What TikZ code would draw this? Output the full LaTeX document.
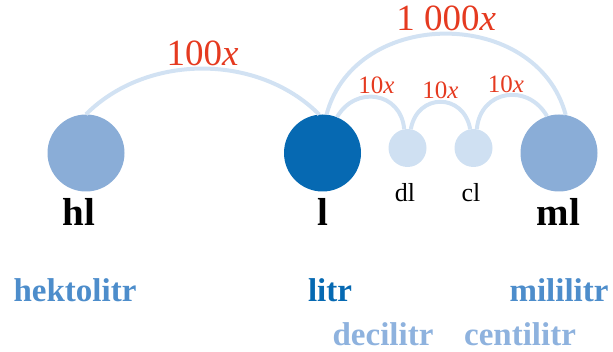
\documentclass[tikz,border=0pt]{standalone}
\usepackage{fontspec}
\setmainfont{Liberation Serif}
\usepackage{xcolor}
\definecolor{unitmid}{HTML}{8AADD7}
\definecolor{unitdark}{HTML}{0669B2}
\definecolor{unitlight}{HTML}{CFE0F2}
\definecolor{linkblue}{HTML}{D2E2F3}
\definecolor{factorred}{HTML}{E53A20}
\definecolor{namemid}{HTML}{4D8DCB}
\definecolor{namelight}{HTML}{8EB2DE}

\begin{document}
\begin{tikzpicture}[x=1pt,y=1pt,
  unit/.style={circle,inner sep=0pt,minimum size=77pt,fill=#1},
  subunit/.style={circle,inner sep=0pt,minimum size=38pt,fill=unitlight},
  link/.style={line width=4pt,draw=linkblue},
  factor/.style={text=factorred,inner sep=1pt,font=\fontsize{37}{37}\selectfont},
  smallfactor/.style={text=factorred,inner sep=1pt,font=\fontsize{25}{25}\selectfont},
  symbol/.style={anchor=base,inner sep=0pt,font=\fontsize{39}{39}\selectfont\bfseries},
  subsymbol/.style={anchor=base,inner sep=0pt,font=\fontsize{26}{26}\selectfont},
  unitname/.style={anchor=base,inner sep=0pt,font=\fontsize{33}{33}\selectfont\bfseries}]
\useasboundingbox (0,0) rectangle (613,351);
% circles
\node[unit=unitmid] (hl) at (86,198) {};
\node[unit=unitdark] (l) at (322.5,198) {};
\node[subunit] (dl) at (407.5,203) {};
\node[subunit] (cl) at (473.5,203) {};
\node[unit=unitmid] (ml) at (559,198) {};
% arcs
\draw[link] (hl.north) to[out=45,in=135,looseness=0.95]
  node[factor,midway,above]{100\textit{x}} (l.95);
\draw[link] (l.84) to[out=75,in=105,looseness=1.2]
  node[factor,midway,above]{1 000\textit{x}} (ml.80);
\draw[link] (l.68) to[out=60,in=95,looseness=1.4]
  node[smallfactor,midway,above]{10\textit{x}} (dl.100);
\draw[link] (dl.80) to[out=80,in=100,looseness=1.6]
  node[smallfactor,midway,above]{10\textit{x}} (cl.100);
\draw[link] (cl.80) to[out=85,in=120,looseness=1.4]
  node[smallfactor,midway,above]{10\textit{x}} (ml.108);
% symbols
\node[symbol] (hlsym) at (79,125) {hl};
\node[symbol] (lsym) at (323,125) {l};
\node[subsymbol] (dlsym) at (405,149) {dl};
\node[subsymbol] (clsym) at (471,149) {cl};
\node[symbol] (mlsym) at (558.5,125) {ml};
% names
\node[unitname,text=namemid] (hlname) at (75,50) {hektolitr};
\node[unitname,text=unitdark] (lname) at (330,50) {litr};
\node[unitname,text=namemid] (mlname) at (559,50) {mililitr};
\node[unitname,text=namelight] (dlname) at (383,6) {decilitr};
\node[unitname,text=namelight] (clname) at (520,6) {centilitr};
\end{tikzpicture}
\end{document}
